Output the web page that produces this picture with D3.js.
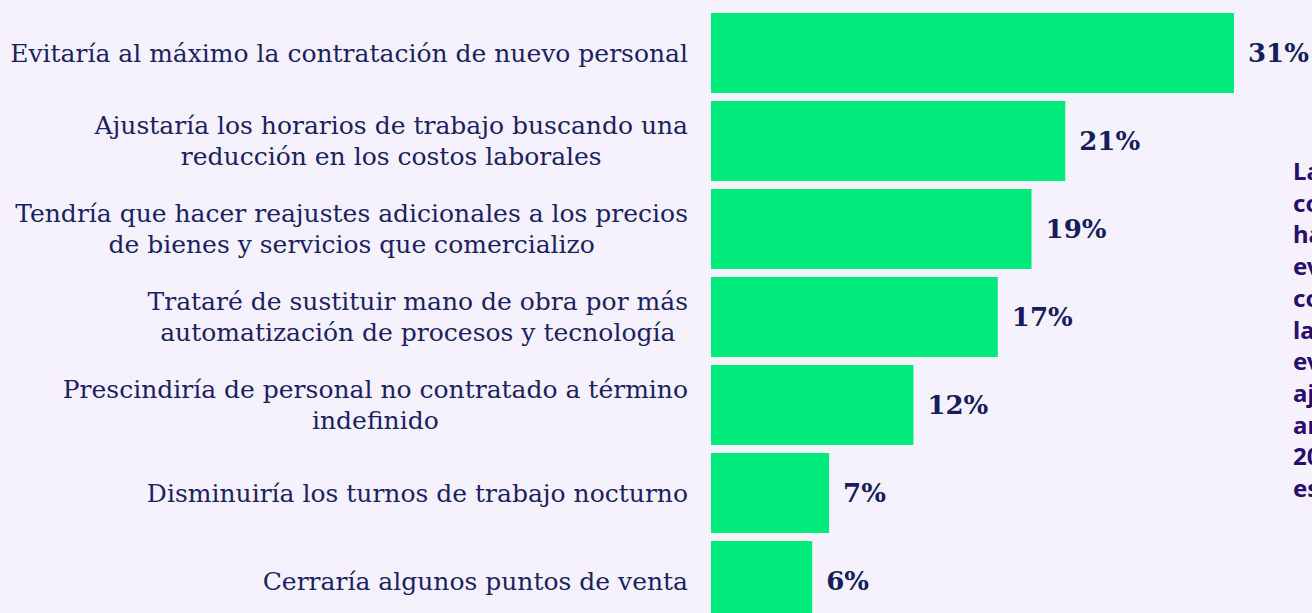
<!DOCTYPE html>
<html>
<head>
<meta charset="utf-8">
<script src="https://cdn.jsdelivr.net/npm/d3@7"></script>
<style>
  html, body { margin: 0; padding: 0; background: #f6f2fd; overflow: hidden; }
  svg { display: block; }
</style>
</head>
<body>
<svg id="chart"></svg>
<script>
// datos del gráfico
var categories = [
    "Evitaría al máximo la contratación de nuevo personal",
    "Ajustaría los horarios de trabajo buscando una\nreducción en los costos laborales",
    "Tendría que hacer reajustes adicionales a los precios\nde bienes y servicios que comercializo",
    "Trataré de sustituir mano de obra por más\nautomatización de procesos y tecnología",
    "Prescindiría de personal no contratado a término\nindefinido",
    "Disminuiría los turnos de trabajo nocturno",
    "Cerraría algunos puntos de venta"
];
var values = [31, 21, 19, 17, 12, 7, 6];
var noteLines = ["La mayoría", "considera que", "hay que", "evitar la", "contratación", "laboral y", "evaluar", "ajustes", "ante el", "2024 que", "espera"];

var width = 1312;
var height = 613;
var labelRight = 688;   // borde derecho de las etiquetas
var barLeft = 711;

var svg = d3.select("#chart")
    .attr("width", width)
    .attr("height", height);

var x = d3.scaleLinear()
    .domain([0, 31])
    .range([barLeft, 1234]);

var y = d3.scaleBand()
    .domain(categories)
    .range([9, 9 + 88 * categories.length])
    .paddingInner(8 / 88)
    .paddingOuter(4 / 88);

// barras
svg.selectAll(".bar")
    .data(values)
    .enter()
    .append("rect")
    .attr("class", "bar")
    .attr("x", x(0))
    .attr("y", function (d, i) { return y(categories[i]); })
    .attr("width", function (d) { return x(d) - x(0); })
    .attr("height", y.bandwidth())
    .attr("fill", "#00eb7b");

// valores
svg.selectAll(".val")
    .data(values)
    .enter()
    .append("text")
    .attr("class", "val")
    .attr("x", function (d) { return x(d) + 14; })
    .attr("y", function (d, i) { return y(categories[i]) + y.bandwidth() / 2; })
    .attr("dy", "0.35em")
    .attr("font-family", "'DejaVu Serif', serif")
    .attr("font-weight", "bold")
    .attr("font-size", "26px")
    .attr("fill", "#151d5c")
    .text(function (d) { return d + "%"; });

// etiquetas (centradas, bloque alineado a la derecha)
var lineH = 31;
categories.forEach(function (c) {
    var lines = c.split("\n");
    var g = svg.append("g");
    var cy = y(c) + y.bandwidth() / 2;
    var t = g.append("text")
        .attr("font-family", "'DejaVu Serif', serif")
        .attr("font-size", "25px")
        .attr("fill", "#1b2262")
        .attr("text-anchor", "middle");
    lines.forEach(function (l, j) {
        t.append("tspan")
            .attr("x", 0)
            .attr("y", cy + (j - (lines.length - 1) / 2) * lineH)
            .attr("dy", "0.35em")
            .text(l);
    });
    var maxW = 0;
    t.selectAll("tspan").each(function () {
        maxW = Math.max(maxW, this.getComputedTextLength());
    });
    g.attr("transform", "translate(" + (labelRight - maxW / 2) + ",0)");
});

// texto lateral (cortado en el borde, como en el original)
var note = svg.append("text")
    .attr("font-family", "'Noto Sans', sans-serif")
    .attr("font-weight", "bold")
    .attr("font-size", "24px")
    .attr("fill", "#2a0d6c");
noteLines.forEach(function (l, i) {
    note.append("tspan")
        .attr("x", 1293)
        .attr("y", 180 + i * 31.7)
        .text(l);
});
</script>
</body>
</html>
